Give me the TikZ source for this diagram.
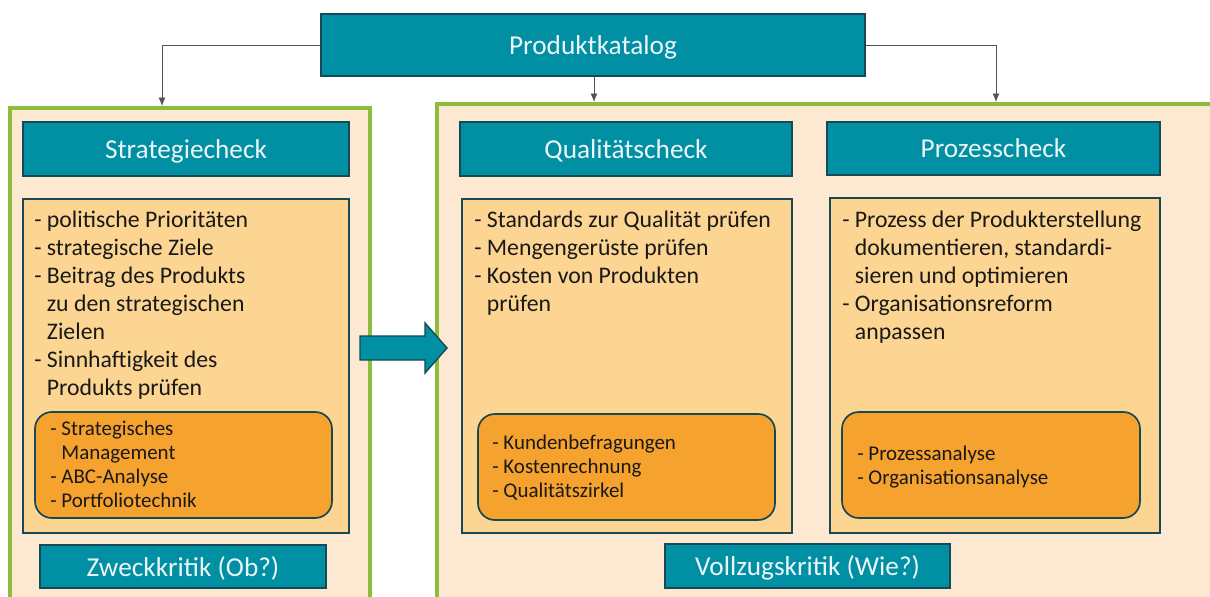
\documentclass[tikz,border=0pt]{standalone}
\usepackage{fontspec}
\setmainfont{Carlito}
\usepackage{xcolor}
\usetikzlibrary{arrows.meta}

\definecolor{tealfill}{RGB}{0,143,163}
\definecolor{tealline}{RGB}{22,72,86}
\definecolor{peach}{RGB}{253,232,210}
\definecolor{framegreen}{RGB}{140,189,63}
\definecolor{listfill}{RGB}{253,213,146}
\definecolor{toolfill}{RGB}{246,162,46}
\definecolor{headtext}{RGB}{236,246,248}
\definecolor{connector}{RGB}{85,85,85}

\tikzset{
  headbox/.style={draw=tealline, line width=1.4pt, fill=tealfill, text=headtext,
    font=\fontsize{19.4}{23}\selectfont, inner sep=0pt, text depth=0pt},
  listbox/.style={draw=tealline, line width=1.2pt, fill=listfill, inner sep=0pt},
  toolbox/.style={draw=tealline, line width=1.2pt, fill=toolfill, rounded corners=12pt, inner sep=0pt},
  frame/.style={draw=framegreen, line width=2.2pt, fill=peach},
  listtext/.style={anchor=north west, inner sep=0pt, align=left, text=black!90,
    font=\fontsize{16.9}{19.9}\selectfont},
  tooltext/.style={anchor=north west, inner sep=0pt, align=left, text=black!90,
    font=\fontsize{14.9}{17}\selectfont},
  link/.style={draw=connector, line width=0.6pt, -{Latex[length=6pt,width=5pt]}}
}
\newcommand{\ind}{\hphantom{- }}

\begin{document}
\begin{tikzpicture}[x=0.025cm,y=-0.025cm]
\clip (0,0) rectangle (1210,597);
\fill[white] (0,0) rectangle (1210,597);

% outer frames
\path[frame] (10,108) rectangle (370,620);
\path[frame] (437,104) rectangle (1230,620);

% top box
\node[headbox, minimum width=544*0.025cm, minimum height=62*0.025cm] (katalog) at (593,45) {Produktkatalog};

% column heads
\node[headbox, minimum width=326*0.025cm, minimum height=54*0.025cm] (strat) at (186,149) {Strategiecheck};
\node[headbox, minimum width=332*0.025cm, minimum height=54*0.025cm] (qual) at (626,149) {Qualitätscheck};
\node[headbox, minimum width=333*0.025cm, minimum height=53*0.025cm] (proz) at (993.5,148.5) {Prozesscheck};

% lists
\node[listbox, minimum width=326*0.025cm, minimum height=334*0.025cm] (stratlist) at (186,366) {};
\node[listbox, minimum width=330*0.025cm, minimum height=334*0.025cm] (quallist) at (627,366) {};
\node[listbox, minimum width=330*0.025cm, minimum height=335*0.025cm] (prozlist) at (995,365.5) {};

\node[listtext] (strattext) at (34,211) {- politische Prioritäten\\- strategische Ziele\\- Beitrag des Produkts\\\ind zu den strategischen\\\ind Zielen\\- Sinnhaftigkeit des\\\ind Produkts prüfen};
\node[listtext] (qualtext) at (474,211) {- Standards zur Qualität prüfen\\- Mengengerüste prüfen\\- Kosten von Produkten\\\ind prüfen};
\node[listtext] (proztext) at (842,211) {- Prozess der Produkterstellung\\\ind dokumentieren, standardi-\\\ind sieren und optimieren\\- Organisationsreform\\\ind anpassen};

% tools
\node[toolbox, minimum width=297*0.025cm, minimum height=106*0.025cm] (strattool) at (183.5,465) {};
\node[toolbox, minimum width=297*0.025cm, minimum height=106*0.025cm] (qualtool) at (626.5,467) {};
\node[toolbox, minimum width=298*0.025cm, minimum height=106*0.025cm] (prozntool) at (991,465) {};

\node[tooltext] at (50,421) {- Strategisches\\\ind Management\\- ABC-Analyse\\- Portfoliotechnik};
\node[tooltext] at (492,435) {- Kundenbefragungen\\- Kostenrechnung\\- Qualitätszirkel};
\node[tooltext] at (857,446) {- Prozessanalyse\\- Organisationsanalyse};

% kritik
\node[headbox, minimum width=286*0.025cm, minimum height=43*0.025cm] (zweck) at (183,566.5) {Zweckkritik (Ob?)};
\node[headbox, minimum width=285*0.025cm, minimum height=44*0.025cm] (vollzug) at (807.5,566) {Vollzugskritik (Wie?)};

% connectors
\coordinate (leftin) at (162,106);
\coordinate (midin) at (594,102);
\coordinate (rightin) at (996,102);
\draw[link] (katalog.west) -| (leftin);
\draw[link] (katalog.south -| midin) -- (midin);
\draw[link] (katalog.east) -| (rightin);

% big arrow
\draw[draw=tealline, line width=1pt, fill=tealfill]
  (360,336) -- (425,336) -- (425,323) -- (447,348) -- (425,373) -- (425,360) -- (360,360) -- cycle;
\end{tikzpicture}
\end{document}
